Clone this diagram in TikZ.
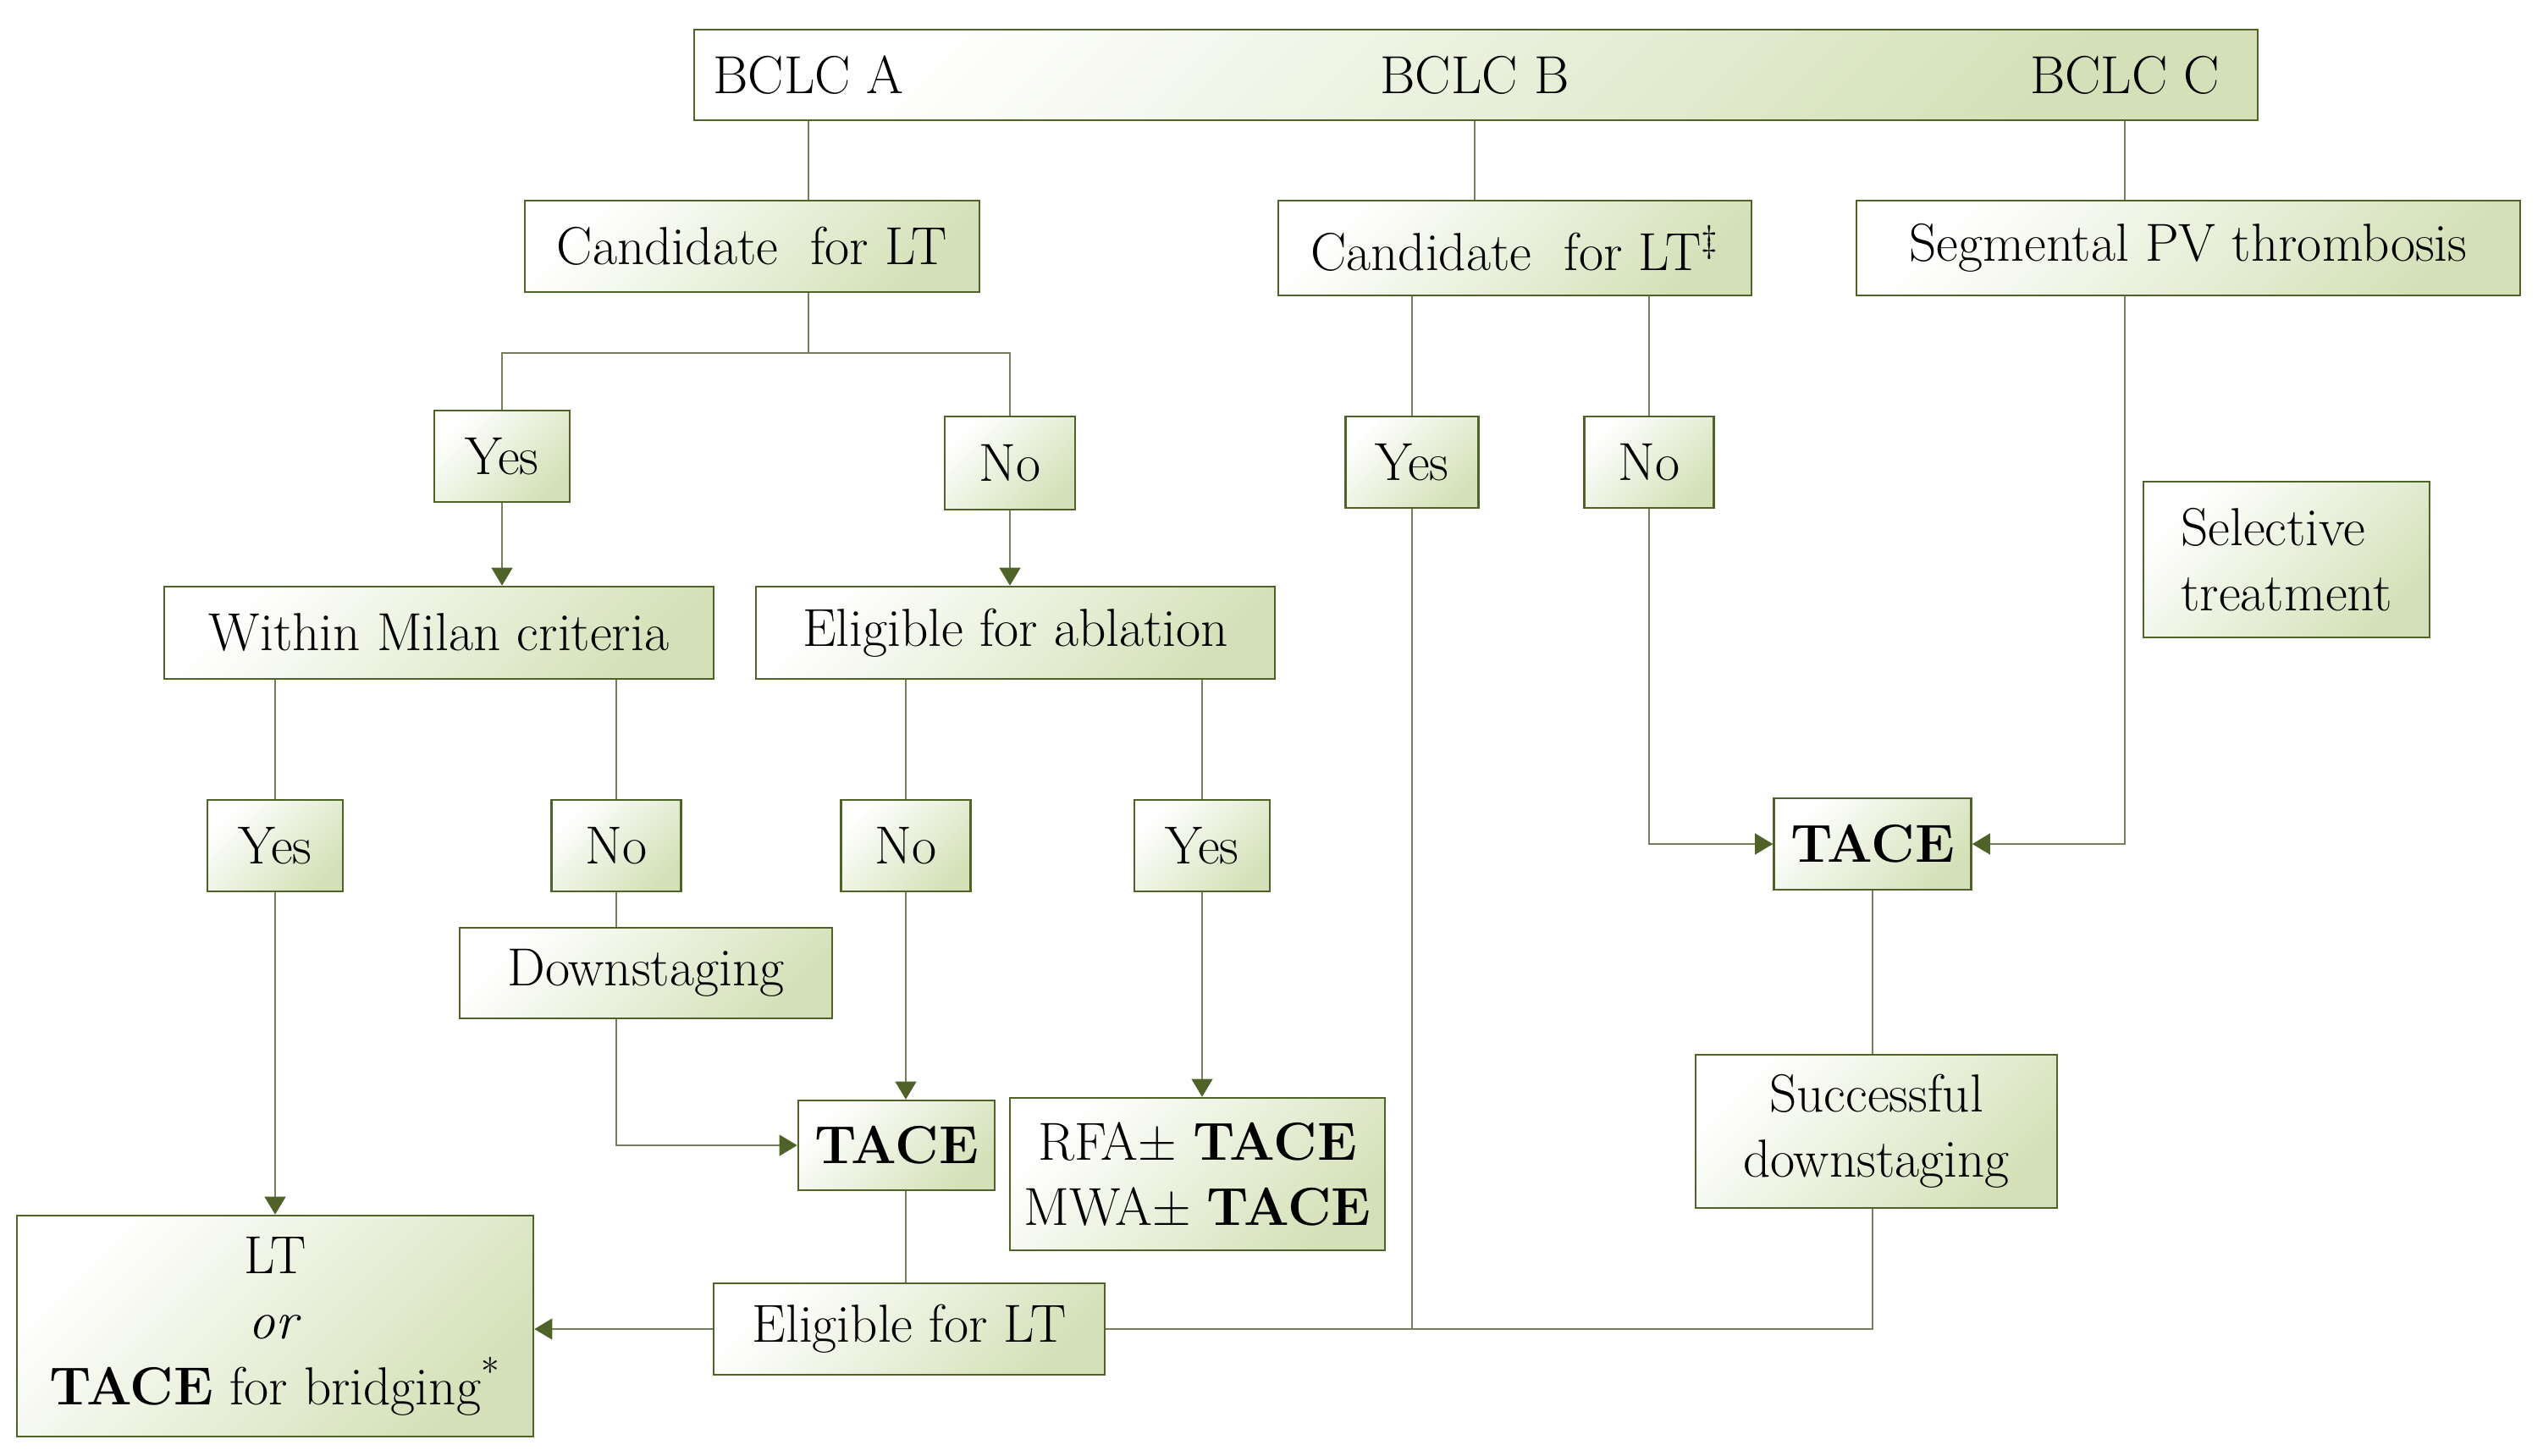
\documentclass[tikz,border=0pt]{standalone}
\usepackage{tikz}
\usetikzlibrary{arrows.meta}
\definecolor{olivedark}{RGB}{79,98,40}
\definecolor{olivelight}{RGB}{212,225,184}
\definecolor{linkgray}{RGB}{118,126,96}

\begin{document}
\begin{tikzpicture}[
    box/.style={draw=olivedark, line width=0.7pt, top color=white, bottom color=olivelight,
        shading angle=45, inner sep=0pt, align=center, font=\fontsize{18}{22}\selectfont},
    tag/.style={inner sep=0pt, font=\fontsize{18}{22}\selectfont},
    link/.style={draw=linkgray, line width=0.7pt},
    flow/.style={draw=linkgray, line width=0.7pt, ->},
    >={Triangle[width=7pt,length=6pt,color=olivedark]}
]
            \useasboundingbox (0,0) rectangle (30.04,-17.19);

            \node[box, minimum width=18.47cm, minimum height=1.07cm] (bclc) at (17.435,-0.885) {};
            \node[tag] (bclcA) at (9.55,-0.885) {BCLC A};
            \node[tag] (bclcB) at (17.42,-0.885) {BCLC B};
            \node[tag] (bclcC) at (25.10,-0.885) {BCLC C};

            \node[box, minimum width=5.37cm, minimum height=1.08cm] (candA) at (8.885,-2.91) {Candidate~~for LT};
            \node[box, minimum width=5.59cm, minimum height=1.12cm] (candB) at (17.895,-2.93) {Candidate~~for LT\textsuperscript{\ddag}};
            \node[box, minimum width=7.84cm, minimum height=1.12cm] (pvt) at (25.85,-2.93) {Segmental PV thrombosis};

            \node[box, minimum width=1.60cm, minimum height=1.08cm] (yesA) at (5.93,-5.39) {Yes};
            \node[box, minimum width=1.54cm, minimum height=1.10cm] (noA) at (11.93,-5.47) {No};
            \node[box, minimum width=1.57cm, minimum height=1.08cm] (yesB) at (16.68,-5.46) {Yes};
            \node[box, minimum width=1.53cm, minimum height=1.08cm] (noB) at (19.48,-5.46) {No};
            \node[box, minimum width=3.38cm, minimum height=1.84cm, align=left] (sel) at (27.01,-6.61) {Selective\\treatment};

            \node[box, minimum width=6.49cm, minimum height=1.09cm] (milan) at (5.185,-7.475) {Within Milan criteria};
            \node[box, minimum width=6.13cm, minimum height=1.09cm] (abl) at (11.995,-7.475) {Eligible for ablation};

            \node[box, minimum width=1.60cm, minimum height=1.08cm] (yesM) at (3.25,-9.99) {Yes};
            \node[box, minimum width=1.53cm, minimum height=1.08cm] (noM) at (7.28,-9.99) {No};
            \node[box, minimum width=1.53cm, minimum height=1.08cm] (noE) at (10.70,-9.99) {No};
            \node[box, minimum width=1.60cm, minimum height=1.08cm] (yesE) at (14.20,-9.99) {Yes};
            \node[box, minimum width=2.33cm, minimum height=1.08cm] (taceB) at (22.12,-9.97) {\textbf{TACE}};

            \node[box, minimum width=4.40cm, minimum height=1.07cm] (down) at (7.63,-11.495) {Downstaging};
            \node[box, minimum width=2.32cm, minimum height=1.06cm] (taceA) at (10.59,-13.53) {\textbf{TACE}};
            \node[box, minimum width=4.43cm, minimum height=1.80cm] (rfa) at (14.145,-13.87) {RFA\textpm\ \textbf{TACE}\\MWA\textpm\ \textbf{TACE}};
            \node[box, minimum width=4.27cm, minimum height=1.81cm] (succ) at (22.165,-13.365) {Successful\\downstaging};

            \node[box, minimum width=6.10cm, minimum height=2.61cm] (lt) at (3.25,-15.665) {LT\\\textit{or}\\\textbf{TACE} for bridging\textsuperscript{*}};
            \node[box, minimum width=4.62cm, minimum height=1.08cm] (elig) at (10.74,-15.70) {Eligible for LT};

            \draw[link] (bclcA |- bclc.south) -- (bclcA |- candA.north);
            \draw[link] (bclcB |- bclc.south) -- (bclcB |- candB.north);
            \draw[link] (bclcC |- bclc.south) -- (bclcC |- pvt.north);

            \draw[link] (bclcA |- candA.south) -- ++(0,-0.71) coordinate (splitA);
            \draw[link] (yesA.north) |- (splitA) -| (noA.north);
            \draw[flow] (yesA.south) -- (yesA.south |- milan.north);
            \draw[flow] (noA.south) -- (noA.south |- abl.north);

            \draw[link] (milan.south -| yesM) -- (yesM.north);
            \draw[link] (milan.south -| noM) -- (noM.north);
            \draw[link] (abl.south -| noE) -- (noE.north);
            \draw[link] (abl.south -| yesE) -- (yesE.north);

            \draw[flow] (yesM.south) -- (yesM.south |- lt.north);
            \draw[link] (noM.south) -- (noM.south |- down.north);
            \draw[flow] (down.south -| noM) |- (taceA.west);
            \draw[flow] (noE.south) -- (noE.south |- taceA.north);
            \draw[flow] (yesE.south) -- (yesE.south |- rfa.north);
            \draw[link] (taceA.south -| noE) -- (noE |- elig.north);
            \draw[flow] (elig.west) -- (elig.west -| lt.east);

            \draw[link] (candB.south -| yesB) -- (yesB.north);
            \draw[link] (candB.south -| noB) -- (noB.north);
            \draw[link] (yesB.south) -- (yesB.south |- elig.east);
            \draw[link] (elig.east) -| (succ.south -| taceB);
            \draw[flow] (noB.south) |- (taceB.west);
            \draw[flow] (bclcC |- pvt.south) |- (taceB.east);
            \draw[link] (taceB.south) -- (taceB.south |- succ.north);
\end{tikzpicture}
\end{document}
